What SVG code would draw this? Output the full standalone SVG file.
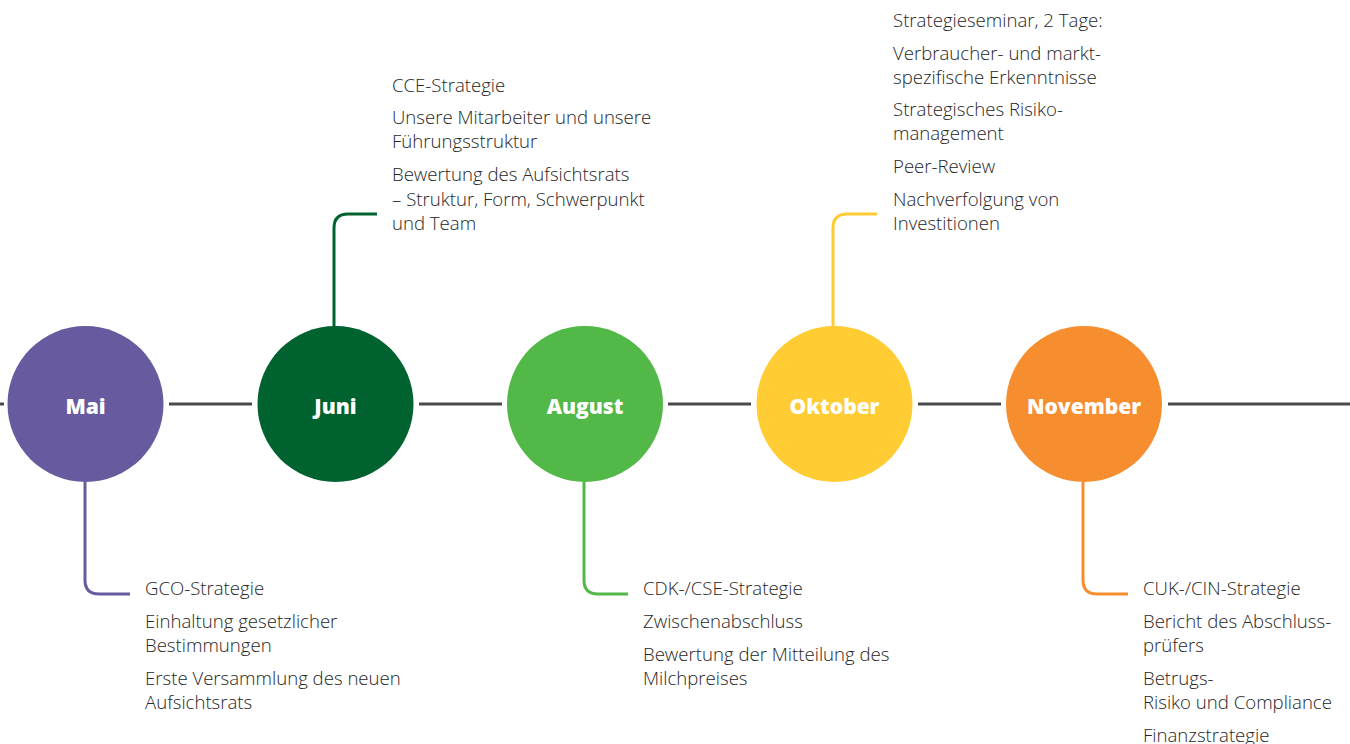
<svg xmlns="http://www.w3.org/2000/svg" width="1350" height="744" viewBox="0 0 1350 744">
<style>
.bg{fill:#ffffff}
.axis{stroke:#4a4a4a;stroke-width:3;fill:none}
.conn{stroke-width:3;fill:none}
.month{font-family:"Open Sans","Liberation Sans",sans-serif;font-weight:800;font-size:21px;fill:#ffffff;text-anchor:middle}
.t{font-family:"Open Sans","Liberation Sans",sans-serif;font-weight:300;font-size:18.6px;fill:#262626}
</style>
<rect class="bg" x="0" y="0" width="1350" height="744"/>
<g id="connectors">
<path class="axis" d="M0 404H4M169 404H252M419 404H502M668 404H751M918 404H1001M1168 404H1350"/>
<path class="conn" stroke="#675a9f" d="M85 482V580Q85 594 99 594H130"/>
<path class="conn" stroke="#00622f" d="M334 327V228Q334 214 348 214H377"/>
<path class="conn" stroke="#52b848" d="M584 482V580Q584 594 598 594H628"/>
<path class="conn" stroke="#ffcc33" d="M833 327V228Q833 214 847 214H877"/>
<path class="conn" stroke="#f68d2e" d="M1083 482V580Q1083 594 1097 594H1128"/>
</g>
<g id="mai">
<circle cx="85.5" cy="404" r="78" fill="#675a9f"/>
<text class="month" x="85.5" y="414">Mai</text>
<text class="t" x="145" y="595">GCO-Strategie</text>
<text class="t" x="145" y="628">Einhaltung gesetzlicher</text>
<text class="t" x="145" y="652">Bestimmungen</text>
<text class="t" x="145" y="685">Erste Versammlung des neuen</text>
<text class="t" x="145" y="709">Aufsichtsrats</text>
</g>
<g id="juni">
<circle cx="335.5" cy="404" r="78" fill="#00622f"/>
<text class="month" x="335.5" y="414">Juni</text>
<text class="t" x="392" y="92">CCE-Strategie</text>
<text class="t" x="392" y="124">Unsere Mitarbeiter und unsere</text>
<text class="t" x="392" y="148">Führungsstruktur</text>
<text class="t" x="392" y="181">Bewertung des Aufsichtsrats</text>
<text class="t" x="392" y="206">– Struktur, Form, Schwerpunkt</text>
<text class="t" x="392" y="230">und Team</text>
</g>
<g id="august">
<circle cx="585" cy="404" r="78" fill="#52b848"/>
<text class="month" x="585" y="414">August</text>
<text class="t" x="643" y="595">CDK-/CSE-Strategie</text>
<text class="t" x="643" y="628">Zwischenabschluss</text>
<text class="t" x="643" y="661">Bewertung der Mitteilung des</text>
<text class="t" x="643" y="685">Milchpreises</text>
</g>
<g id="oktober">
<circle cx="834.5" cy="404" r="78" fill="#ffcc33"/>
<text class="month" x="834.5" y="414">Oktober</text>
<text class="t" x="893" y="27">Strategieseminar, 2 Tage:</text>
<text class="t" x="893" y="60">Verbraucher- und markt-</text>
<text class="t" x="893" y="84">spezifische Erkenntnisse</text>
<text class="t" x="893" y="116">Strategisches Risiko-</text>
<text class="t" x="893" y="140">management</text>
<text class="t" x="893" y="173">Peer-Review</text>
<text class="t" x="893" y="206">Nachverfolgung von</text>
<text class="t" x="893" y="230">Investitionen</text>
</g>
<g id="november">
<circle cx="1084" cy="404" r="78" fill="#f68d2e"/>
<text class="month" x="1084" y="414">November</text>
<text class="t" x="1143" y="595">CUK-/CIN-Strategie</text>
<text class="t" x="1143" y="628">Bericht des Abschluss-</text>
<text class="t" x="1143" y="652">prüfers</text>
<text class="t" x="1143" y="685">Betrugs-</text>
<text class="t" x="1143" y="709">Risiko und Compliance</text>
<text class="t" x="1143" y="742">Finanzstrategie</text>
</g>
</svg>
